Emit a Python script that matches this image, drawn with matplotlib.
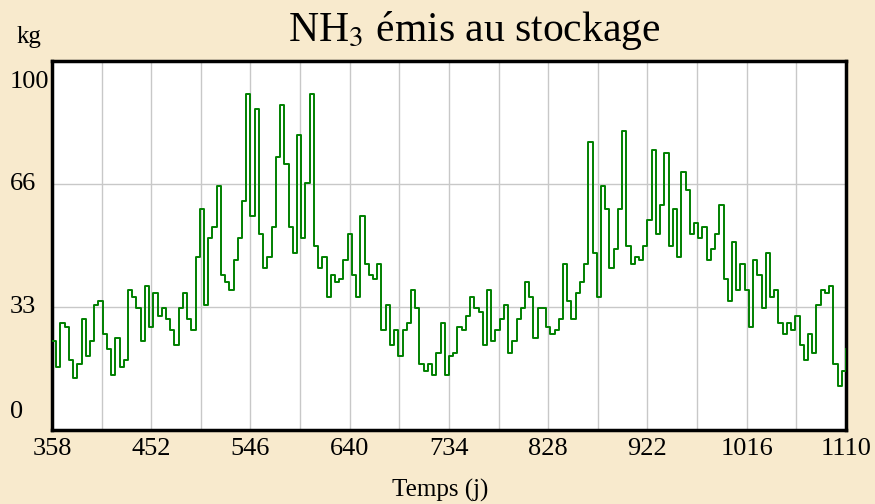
import numpy as np
import matplotlib
matplotlib.use("Agg")
import matplotlib.pyplot as plt
import matplotlib.transforms as mtransforms

plt.rcParams['font.family'] = ['Liberation Serif', 'DejaVu Serif']
plt.rcParams['mathtext.fontset'] = 'stix'

# days, one reading every 4 days (358 .. 1110)
days = np.arange(358, 1111, 4)

# NH3 emitted in storage, kg
kg = [
    24, 17, 29, 28, 19, 14, 18, 30, 20, 24, 34, 35, 26, 22, 15, 25, 17, 19, 38, 36,
    33, 24, 39, 28, 37, 31, 33,
    30, 27, 23, 33, 37, 30, 27, 47, 60, 34, 52, 55, 66, 42, 40, 38, 46, 52, 62, 91,
    58, 87, 53, 44, 47, 55, 74, 88,
    72, 55, 48, 80, 52, 67, 91, 50, 44, 47, 36, 42, 40, 41, 46, 53, 42, 36, 58, 45,
    42, 41, 45, 27, 34, 23, 27,
    20, 27, 29, 38, 33, 18, 16, 18, 15, 21, 29, 15, 20, 21, 28, 27, 31, 36, 33, 32,
    23, 38, 24, 27, 30, 34, 21,
    24, 30, 33, 40, 36, 25, 33, 33, 28, 26, 27, 30, 45, 35, 30, 37, 40, 45, 78, 48,
    36, 66, 60, 44, 49, 60, 81,
    50, 45, 47, 46, 50, 57, 76, 53, 61, 75, 50, 60, 47, 70, 65, 53, 56, 52, 55, 46,
    49, 53, 61, 41, 35, 51, 38, 45,
    38, 28, 46, 42, 33, 48, 36, 38, 29, 26, 29, 27, 31, 23, 19, 26, 21, 34, 38, 37,
    39, 18, 12, 16, 22,
]

xtick_days = [358, 452, 546, 640, 734, 828, 922, 1016, 1110]
ytick_vals = [0, 100 / 3, 200 / 3, 100]
ytick_labels = ['0', '33', '66', '100']

bg = '#f8eacd'
fig = plt.figure(figsize=(8.75, 5.04), dpi=100, facecolor=bg)
ax = fig.add_axes([52 / 875, 1 - 430 / 504, 794 / 875, 369 / 504])
ax.set_facecolor('white')

ax.plot(days, kg, drawstyle='steps-post', color='#008000', lw=1.4, zorder=3)

ax.set_xlim(358, 1110)
ax.set_ylim(0, 100)

ax.set_xticks(xtick_days)
ax.set_xticks(np.arange(358 + 47, 1110, 94), minor=True)
ax.set_xticklabels([str(d) for d in xtick_days], fontsize=19)
ax.set_yticks(ytick_vals)
ax.set_yticklabels([])
ax.tick_params(axis='both', which='both', length=0)
ax.tick_params(axis='x', pad=6)
ax.grid(True, which='both', color='#c8c8c8', lw=1.0, zorder=0)

for s in ax.spines.values():
    s.set_linewidth(2.5)
    s.set_color('black')

# y labels sit left-aligned at the figure edge, end labels pulled inward
blend = mtransforms.blended_transform_factory(fig.transFigure, ax.transData)
offsets = [18, 0, 0, -21]
for v, lab, dy in zip(ytick_vals, ytick_labels, offsets):
    ax.annotate(lab, xy=(10 / 875, v), xycoords=blend, xytext=(0, dy),
                textcoords='offset pixels', ha='left', va='center',
                fontsize=19, annotation_clip=False)

fig.text(474 / 875, 1 - 30 / 504, 'NH$_3$ émis au stockage', ha='center',
         va='center', fontsize=30)
fig.text(17 / 875, 1 - 37 / 504, 'kg', ha='left', va='center', fontsize=18)
fig.text(440 / 875, 1 - 490 / 504, 'Temps (j)', ha='center', va='center',
         fontsize=18)

fig.savefig('out.png', dpi=100, facecolor=bg)
